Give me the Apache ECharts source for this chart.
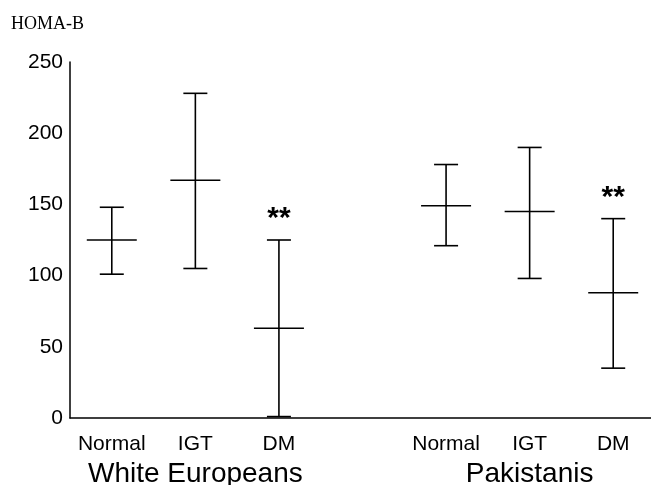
<!DOCTYPE html>
<html lang="en">
  <head>
    <meta charset="UTF-8" />
    <title>HOMA-B</title>
    <script src="https://cdn.jsdelivr.net/npm/echarts@6/dist/echarts.min.js"></script>
  </head>
  <body style="margin: 0; background: #fff">
    <div id="main" style="width: 651px; height: 485px"></div>

    <script>
      // 7 slots: 3 groups each side, one empty slot as the gap
      const categories = ['Normal', 'IGT', 'DM', '', 'Normal', 'IGT', 'DM']
      const groupLabels = ['', 'White Europeans', '', '', '', 'Pakistanis', '']
      const meanValues = [125, 167, 63, null, 149, 145, 88]
      const lowValues = [101, 105, 1, null, 121, 98, 35]
      const highValues = [148, 228, 125, null, 178, 190, 140]
      const marks = ['', '', '**', '', '', '', '**']
      const yTicks = [0, 50, 100, 150, 200, 250]

      const barData = categories
        .map((c, i) => [i, lowValues[i], meanValues[i], highValues[i], marks[i]])
        .filter(d => d[2] != null)

      const font = 'Liberation Sans, Arial, sans-serif'

      function renderErrorBar(params, api) {
        const x = api.value(0)
        const lo = api.coord([x, api.value(1)])
        const mid = api.coord([x, api.value(2)])
        const hi = api.coord([x, api.value(3)])
        const cap = 12 // half width of the end caps
        const half = 25 // half width of the mean line
        const style = { stroke: '#000', lineWidth: 1.6 }
        const children = [
          { type: 'line', shape: { x1: hi[0], y1: hi[1], x2: lo[0], y2: lo[1] }, style },
          { type: 'line', shape: { x1: hi[0] - cap, y1: hi[1], x2: hi[0] + cap, y2: hi[1] }, style },
          { type: 'line', shape: { x1: lo[0] - cap, y1: lo[1], x2: lo[0] + cap, y2: lo[1] }, style },
          { type: 'line', shape: { x1: mid[0] - half, y1: mid[1], x2: mid[0] + half, y2: mid[1] }, style },
        ]
        const mark = api.value(4)
        if (mark) {
          children.push({
            type: 'text',
            style: {
              text: mark,
              x: hi[0],
              y: hi[1] - 6,
              align: 'center',
              verticalAlign: 'bottom',
              fill: '#000',
              font: 'bold 30px ' + font,
            },
          })
        }
        return { type: 'group', children }
      }

      const myChart = echarts.init(document.getElementById('main'))
      const options = {
        animation: false,
        title: {
          text: 'HOMA-B',
          left: 6,
          top: 10,
          textStyle: { fontFamily: 'Liberation Serif, Times New Roman, serif', fontSize: 18, fontWeight: 'normal', color: '#000' },
        },
        grid: { left: 70, right: -4, top: 62, bottom: 67, outerBoundsMode: 'none' },
        xAxis: [
          {
            type: 'category',
            data: categories,
            axisLine: { lineStyle: { color: '#000', width: 1.5 } },
            axisTick: { show: false },
            axisLabel: { interval: 0, color: '#000', fontSize: 21, fontFamily: font, margin: 16 },
          },
          {
            type: 'category',
            data: groupLabels,
            position: 'bottom',
            axisLine: { show: false },
            axisTick: { show: false },
            axisLabel: { interval: 0, color: '#000', fontSize: 28, fontFamily: font, margin: 42 },
          },
        ],
        yAxis: {
          type: 'value',
          min: yTicks[0],
          max: yTicks[yTicks.length - 1],
          interval: 50,
          axisLine: { show: true, lineStyle: { color: '#000', width: 1.5 } },
          axisTick: { show: false },
          splitLine: { show: false },
          axisLabel: { color: '#000', fontSize: 21, fontFamily: font, margin: 7 },
        },
        series: [
          {
            type: 'custom',
            xAxisIndex: 0,
            renderItem: renderErrorBar,
            encode: { x: 0, y: [1, 2, 3] },
            data: barData,
          },
        ],
      }
      myChart.setOption(options)
    </script>
  </body>
</html>
